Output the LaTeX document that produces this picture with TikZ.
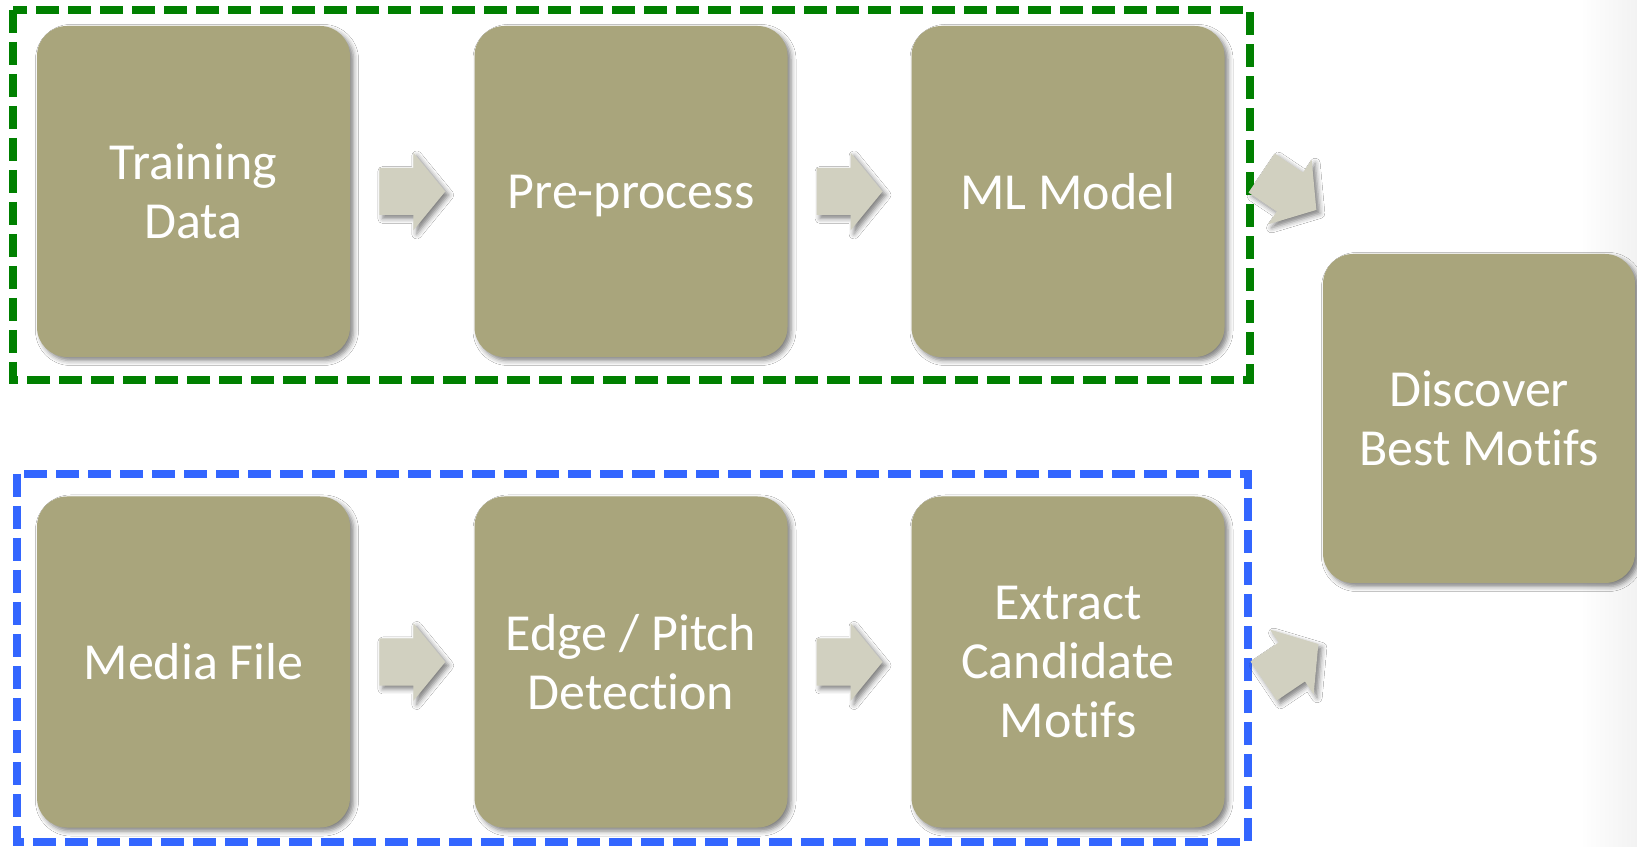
\documentclass[tikz,border=0pt]{standalone}
\usepackage{fontspec}
\setmainfont{Carlito}[Ligatures={NoCommon}]
\usetikzlibrary{calc,shadows.blur}

\definecolor{boxfill}{HTML}{A9A57C}
\definecolor{arrowfill}{HTML}{D1D0C0}
\definecolor{trainGreen}{HTML}{008000}
\definecolor{detectBlue}{HTML}{3366FF}
\definecolor{edgeshade}{HTML}{F2F2F2}

\tikzset{
  softshadow/.style={blur shadow={shadow xshift=3.5pt, shadow yshift=-3.5pt,
      shadow blur radius=5pt, shadow opacity=50}},
  stage/.style={fill=boxfill, rounded corners=30pt, minimum width=313pt,
      minimum height=331pt, text=white, font=\fontsize{52}{59}\selectfont,
      align=center, inner sep=0pt, softshadow},
  groupframe/.style={line width=8pt, dash pattern=on 23pt off 9pt},
  blockarrow/.pic={
    \fill[arrowfill, softshadow]
      (-33,23.5) -- (1,23.5) -- (1,39) -- (33,0) -- (1,-39) -- (1,-23.5)
      -- (-33,-23.5) -- cycle;
  }
}

\begin{document}
\begin{tikzpicture}[x=1pt,y=1pt]
  \useasboundingbox (0,0) rectangle (1637,846);
  \fill[white] (0,0) rectangle (1637,846);
  % faint grey fade along the right edge of the page
  \shade[left color=white, right color=edgeshade] (1580,0) rectangle (1637,846);

  % training pipeline
  \node[stage] (train) at (193.5,654.5) {Training\\Data};
  \node[stage, text depth=0pt] (prep) at (631,654.5) {Pre-process};
  \node[stage] (model) at (1068,654.5)  {ML Model};

  % detection pipeline
  \node[stage] (media)   at (193.5,184) {Media File};
  \node[stage] (detect)  at (631,184)   {Edge / Pitch\\Detection};
  \node[stage] (extract) at (1068,184)  {Extract\\Candidate\\Motifs};

  % final stage
  \node[stage, minimum width=312pt, minimum height=329pt] (best) at (1479,427.5)
    {Discover\\Best Motifs};

  % dashed group frames
  \draw[groupframe, trainGreen] (13,836) rectangle (1250,466);
  \draw[groupframe, detectBlue] (17,372) rectangle (1248,4);

  % block arrows between stages
  \pic at ($(train.east)!0.5!(prep.west)$) {blockarrow};
  \pic at ($(prep.east)!0.5!(model.west)$) {blockarrow};
  \pic at ($(media.east)!0.5!(detect.west)$) {blockarrow};
  \pic at ($(detect.east)!0.5!(extract.west)$) {blockarrow};
  \pic[rotate=-34] at (1289,654.5) {blockarrow};
  \pic[rotate=34]  at (1291,183.5) {blockarrow};
\end{tikzpicture}
\end{document}
